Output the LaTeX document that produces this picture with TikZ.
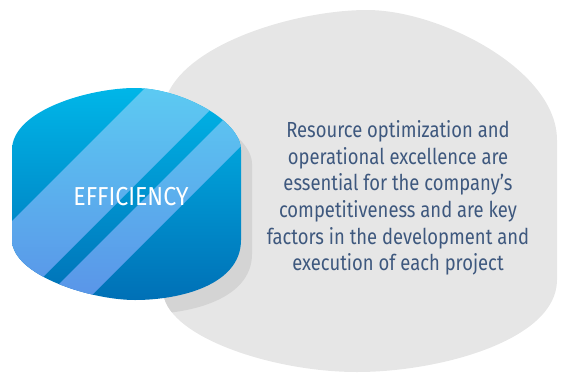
\documentclass[tikz,border=0pt]{standalone}
\usepackage{fontspec}
\newfontfamily\bodyfont[FakeStretch=0.845]{Fira Sans}
\newfontfamily\titlefont[FakeStretch=0.89]{Fira Sans}
\definecolor{blobgray}{RGB}{230,230,230}
\definecolor{shadowgray}{RGB}{212,212,212}
\definecolor{bluetop}{RGB}{0,182,232}
\definecolor{bluebot}{RGB}{0,112,182}
\definecolor{stripetop}{RGB}{92,202,242}
\definecolor{stripebot}{RGB}{90,148,232}
\definecolor{textblue}{RGB}{62,88,126}
\tikzset{
  bodytext/.style={text=textblue, align=center, inner sep=0pt, font=\bodyfont\fontsize{21.8}{26.7}\selectfont},
  titletext/.style={text=white, inner sep=0pt, font=\titlefont\fontsize{26}{30}\selectfont}
}
\def\grayshape{(163,115) .. controls (163,50) and (290,10) .. (367,10) .. controls (440,10) and (557,70) .. (557,140) -- (557,280) .. controls (557,340) and (440,372) .. (357,372) .. controls (270,372) and (163,335) .. (163,290) -- cycle}
\def\blueshape{(12,150) .. controls (12,110) and (90,88) .. (135,88) .. controls (180,88) and (241,120) .. (241,150) -- (241,240) .. controls (241,285) and (180,300) .. (135,300) .. controls (90,300) and (12,275) .. (12,240) -- cycle}
\begin{document}
\begin{tikzpicture}[x=1pt,y=-1pt]
\useasboundingbox (0,0) rectangle (563,373);
% grey blob
\fill[blobgray] \grayshape;
% shadow of the blue shape
\begin{scope}
  \clip \grayshape;
  \fill[shadowgray, shift={(11,14)}] \blueshape;
\end{scope}
% blue shape
\shade[top color=bluetop, bottom color=bluebot] \blueshape;
% stripes
\begin{scope}
  \clip \blueshape;
  \clip (0,233) -- (233,0) -- (320,0) -- (0,320) -- cycle;
  \shade[top color=stripetop, bottom color=stripebot] (12,88) rectangle (241,300);
\end{scope}
\begin{scope}
  \clip \blueshape;
  \clip (0,343) -- (343,0) -- (387,0) -- (0,387) -- cycle;
  \shade[top color=stripetop, bottom color=stripebot] (12,88) rectangle (241,300);
\end{scope}
% texts
\node[titletext] (title) at (131,197) {EFFICIENCY};
\node[bodytext] (desc) at (398,198) {Resource optimization and\\operational excellence are\\essential for the company’s\\competitiveness and are key\\factors in the development and\\execution of each project};
\end{tikzpicture}
\end{document}
